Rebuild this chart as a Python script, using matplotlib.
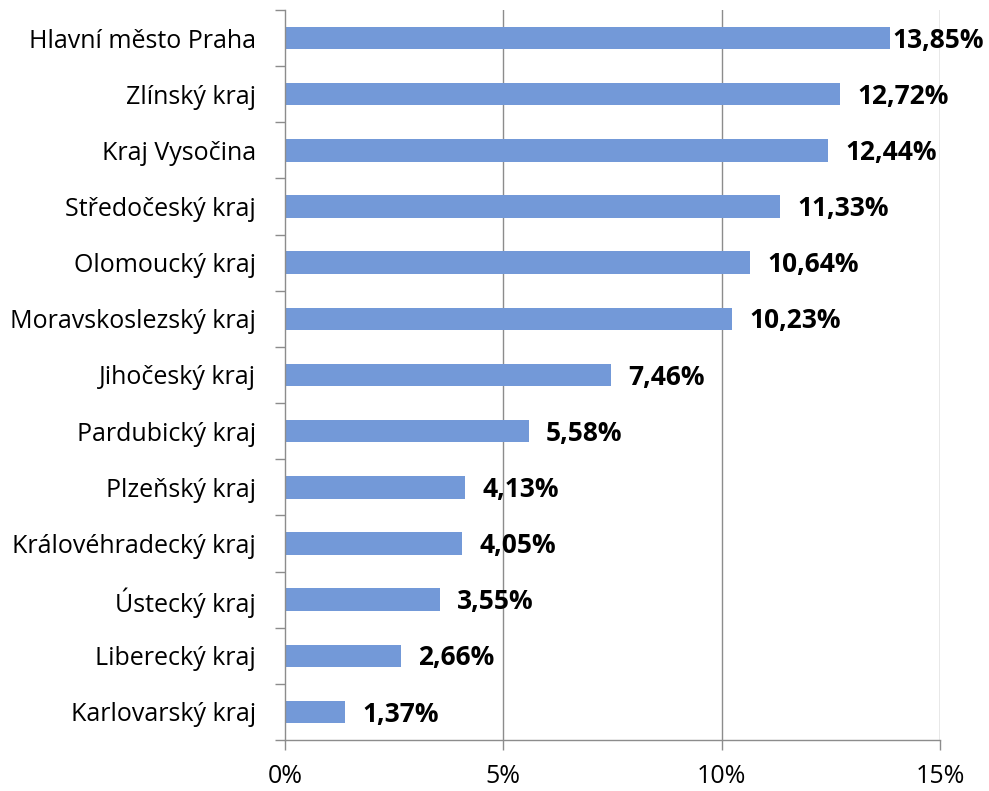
import matplotlib
matplotlib.use("Agg")
import matplotlib.pyplot as plt
from matplotlib.ticker import FixedLocator

categories = ["Hlavní město Praha", "Zlínský kraj", "Kraj Vysočina", "Středočeský kraj",
              "Olomoucký kraj", "Moravskoslezský kraj", "Jihočeský kraj", "Pardubický kraj",
              "Plzeňský kraj", "Královéhradecký kraj", "Ústecký kraj", "Liberecký kraj",
              "Karlovarský kraj"]
values = [13.85, 12.72, 12.44, 11.33, 10.64, 10.23, 7.46, 5.58, 4.13, 4.05, 3.55, 2.66, 1.37]
x_ticks = [0, 5, 10, 15]
x_tick_labels = ["0%", "5%", "10%", "15%"]

plt.rcParams['font.family'] = ['Open Sans', 'DejaVu Sans']

fig = plt.figure(figsize=(9.89, 7.91), dpi=100)
ax = fig.add_axes([285/989, 1-740/791, (940-285)/989, (740-10)/791])

n = len(categories)
ypos = list(range(n))[::-1]
bar_color = "#7399D8"
ax.barh(ypos, values, height=0.4, color=bar_color, zorder=2)

ax.set_xlim(0, 15)
ax.set_ylim(-0.5, n-0.5)

grid_c = "#8C8C8C"
ax.set_xticks(x_ticks)
ax.set_xticklabels(x_tick_labels, fontsize=18)
for x in x_ticks[1:]:
    ax.axvline(x, color=grid_c, lw=1, zorder=1)

ax.set_yticks(ypos)
ax.set_yticklabels(categories, fontsize=18)
ax.yaxis.set_minor_locator(FixedLocator([i - 0.5 for i in range(n + 1)]))
ax.tick_params(axis='y', which='major', length=0, pad=21)
ax.tick_params(axis='y', which='minor', length=7, color=grid_c, width=1)
ax.tick_params(axis='x', which='major', length=7, color=grid_c, width=1, pad=10)

for s in ['top', 'right']:
    ax.spines[s].set_visible(False)
for s in ['left', 'bottom']:
    ax.spines[s].set_color(grid_c)
    ax.spines[s].set_linewidth(1)

for y, v in zip(ypos, values):
    off = 2 if v > 13.5 else 12.5
    ax.annotate(f"{v:.2f}%".replace(".", ","), (v, y), xytext=(off, -1.5),
                textcoords="offset points", va="center", ha="left",
                fontsize=19, fontweight="bold", color="black", annotation_clip=False)

fig.savefig("out.png", dpi=100)
